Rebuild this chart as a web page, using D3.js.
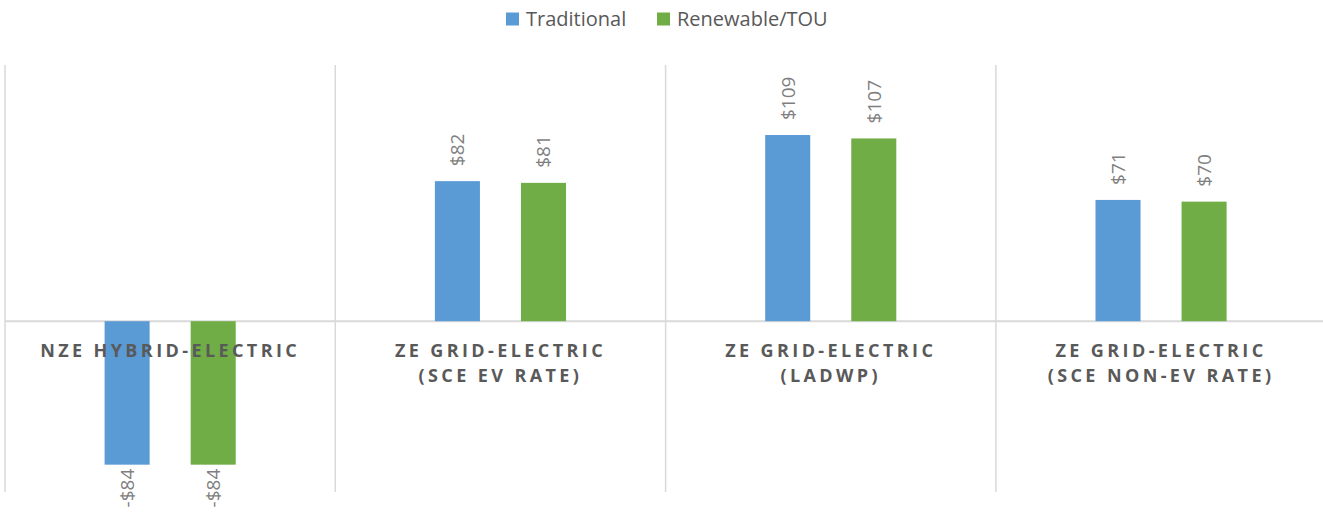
<!DOCTYPE html>
<html>
<head>
<meta charset="utf-8">
<script src="https://cdn.jsdelivr.net/npm/d3@7"></script>
<style>
  html, body { margin: 0; padding: 0; background: #fff; }
  svg { display: block; }
</style>
</head>
<body>
<svg id="chart" width="1323" height="512"></svg>
<script>
// Vehicle options (label lines per category)
const categories = [
  ["NZE HYBRID-ELECTRIC"],
  ["ZE GRID-ELECTRIC", "(SCE EV RATE)"],
  ["ZE GRID-ELECTRIC", "(LADWP)"],
  ["ZE GRID-ELECTRIC", "(SCE NON-EV RATE)"]
];
const seriesNames = ["Traditional", "Renewable/TOU"];
const traditional = [-84, 82, 109, 71];
const renewable = [-84, 81, 107, 70];
const yDomain = [-100, 150];

const colors = { "Traditional": "#5b9bd5", "Renewable/TOU": "#70ad47" };
const font = "'Open Sans', 'Noto Sans', sans-serif";

const svg = d3.select("#chart");
const W = 1323;
const plot = { left: 5, top: 65, bottom: 492, catWidth: 330.3 };

const keys = categories.map(c => c.join(" "));
const x0 = d3.scaleBand()
  .domain(keys)
  .range([plot.left, plot.left + plot.catWidth * keys.length])
  .padding(0);

const x1 = d3.scaleBand()
  .domain(seriesNames)
  .range([0, x0.bandwidth()])
  .paddingInner(0.4767)
  .paddingOuter(1.157);

const y = d3.scaleLinear().domain(yDomain).range([plot.bottom, plot.top]);

// Category separators
svg.append("g")
  .selectAll("line")
  .data(keys)
  .join("line")
  .attr("x1", d => x0(d)).attr("x2", d => x0(d))
  .attr("y1", plot.top).attr("y2", plot.bottom)
  .attr("stroke", "#d9d9d9").attr("stroke-width", 1.5);

// Zero baseline
svg.append("line")
  .attr("x1", plot.left).attr("x2", W)
  .attr("y1", y(0)).attr("y2", y(0))
  .attr("stroke", "#d9d9d9").attr("stroke-width", 2);

const rows = keys.map((k, i) => ({
  key: k,
  values: [
    { s: "Traditional", v: traditional[i] },
    { s: "Renewable/TOU", v: renewable[i] }
  ]
}));

const groups = svg.append("g")
  .selectAll("g")
  .data(rows)
  .join("g")
  .attr("transform", d => `translate(${x0(d.key)},0)`);

groups.selectAll("rect")
  .data(d => d.values)
  .join("rect")
  .attr("x", d => x1(d.s))
  .attr("width", x1.bandwidth())
  .attr("y", d => y(Math.max(0, d.v)))
  .attr("height", d => Math.abs(y(d.v) - y(0)))
  .attr("fill", d => colors[d.s]);

const fmt = v => (v < 0 ? "-$" : "$") + Math.abs(v);

groups.selectAll("text.val")
  .data(d => d.values)
  .join("text")
  .attr("class", "val")
  .attr("transform", d => {
    const cx = x1(d.s) + x1.bandwidth() / 2 + 7;
    const ty = d.v >= 0 ? y(d.v) - 15 : y(d.v) + 4;
    return `translate(${cx},${ty}) rotate(-90)`;
  })
  .attr("text-anchor", d => d.v >= 0 ? "start" : "end")
  .attr("font-family", font)
  .attr("font-size", 19)
  .attr("fill", "#7f7f7f")
  .text(d => fmt(d.v));

// Category labels below the baseline
const catLabels = svg.append("g")
  .selectAll("text")
  .data(categories)
  .join("text")
  .attr("x", (d, i) => x0(keys[i]) + x0.bandwidth() / 2)
  .attr("y", 357)
  .attr("text-anchor", "middle")
  .attr("font-family", font)
  .attr("font-weight", "bold")
  .attr("font-size", 18)
  .attr("letter-spacing", 3.4)
  .attr("fill", "#595959");

catLabels.selectAll("tspan")
  .data(d => d)
  .join("tspan")
  .attr("x", function () { return d3.select(this.parentNode).attr("x"); })
  .attr("dy", (d, i) => i === 0 ? 0 : 25)
  .text(d => d);

// Legend
const legend = svg.append("g");
const legendItems = [
  { s: "Traditional", x: 506 },
  { s: "Renewable/TOU", x: 657 }
];
legendItems.forEach(it => {
  legend.append("rect")
    .attr("x", it.x).attr("y", 12.5)
    .attr("width", 13).attr("height", 13)
    .attr("fill", colors[it.s]);
  legend.append("text")
    .attr("x", it.x + 20).attr("y", 26)
    .attr("font-family", font)
    .attr("font-size", 20)
    .attr("fill", "#595959")
    .text(it.s);
});
</script>
</body>
</html>
